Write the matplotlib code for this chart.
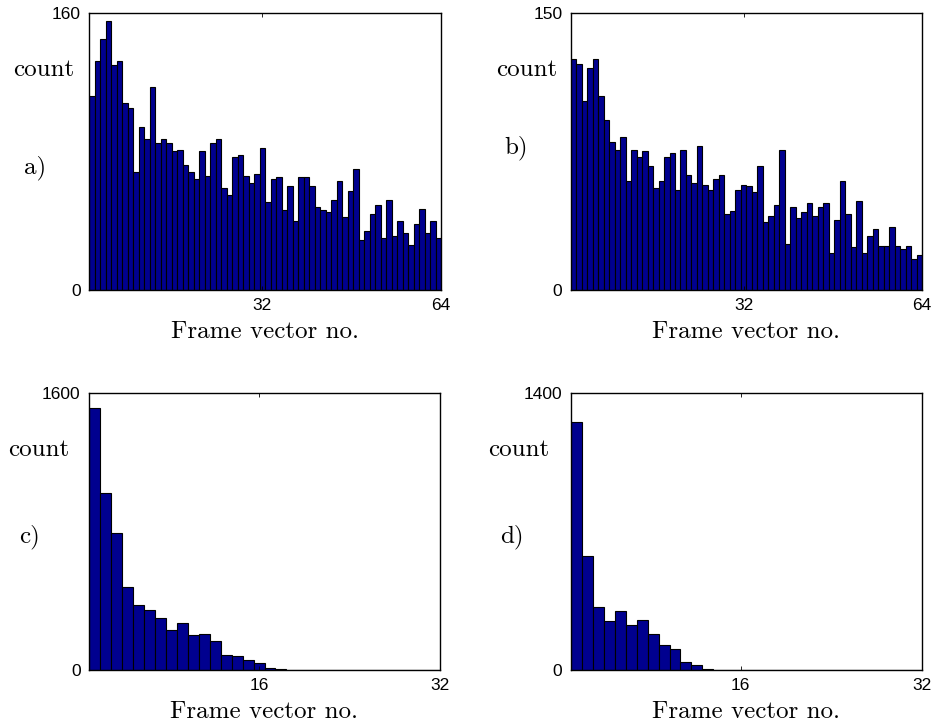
import matplotlib
matplotlib.use("Agg")
import matplotlib.pyplot as plt
import numpy as np

# ---- data ----
counts_a = [112, 132, 145, 155, 130, 132, 108, 105, 68, 94, 87, 117, 85, 87, 85, 80,
            81, 72, 68, 64, 80, 66, 85, 87, 59, 55, 77, 78, 66, 62, 67, 82,
            51, 64, 65, 46, 60, 40, 65, 65, 60, 48, 46, 45, 52, 63, 42, 57,
            70, 29, 34, 44, 49, 30, 52, 31, 40, 33, 26, 38, 47, 33, 40, 30]
counts_b = [125, 122, 102, 120, 125, 105, 92, 80, 76, 83, 59, 76, 72, 75, 67, 55,
            59, 72, 74, 54, 76, 62, 58, 78, 57, 54, 60, 62, 41, 43, 54, 57,
            56, 53, 67, 37, 40, 46, 76, 25, 45, 39, 42, 47, 40, 45, 47, 20,
            38, 59, 41, 23, 48, 20, 29, 33, 24, 24, 34, 24, 22, 24, 17, 19]
counts_c = [1510, 1019, 792, 477, 373, 346, 300, 231, 271, 200, 210, 169, 88, 79, 58, 42,
            10, 6, 0, 0, 0, 0, 0, 0, 0, 0, 0, 0, 0, 0, 0, 0]
counts_d = [1251, 576, 320, 249, 296, 229, 253, 182, 128, 106, 42, 24, 3, 0, 0, 0,
            0, 0, 0, 0, 0, 0, 0, 0, 0, 0, 0, 0, 0, 0, 0, 0]

panels = [
    ("a)", counts_a, 160, 64),
    ("b)", counts_b, 150, 64),
    ("c)", counts_c, 1600, 32),
    ("d)", counts_d, 1400, 32),
]

W, H = 933, 725
fig = plt.figure(figsize=(W / 100, H / 100), dpi=100)

# axes boxes in pixels: left, top, right, bottom
boxes = [(89, 12.7, 441, 290), (570.7, 12.7, 922, 290),
         (89, 392.7, 440, 670), (570.7, 392.7, 922, 670)]
count_pos = [(44, 70), (527, 70), (39, 450), (519, 450)]
letter_pos = [(35, 168), (516, 148), (30, 537), (512, 537)]
xlabel_y = [332, 332, 712, 712]

serif = "cmr10"
barcolor = "#00008f"

for (letter, counts, ymax, n), (l, t, r, b), cp, lp, xy in zip(panels, boxes, count_pos, letter_pos, xlabel_y):
    ax = fig.add_axes([l / W, 1 - b / H, (r - l) / W, (b - t) / H])
    counts = np.asarray(counts, dtype=float)
    width = (n - 1) / n
    lefts = 1 + np.arange(n) * width
    ax.bar(lefts, counts, width=width, align="edge", color=barcolor,
           edgecolor="black", linewidth=0.8)
    ax.set_xlim(1, n)
    ax.set_ylim(0, ymax)
    ax.set_xticks([n // 2, n])
    ax.set_xticklabels([str(n // 2), str(n)])
    ax.set_yticks([0, ymax])
    ax.set_yticklabels(["0", str(ymax)])
    ax.tick_params(direction="in", length=3, width=0.6, top=True, right=True,
                   labelsize=12.5, pad=6)
    for lab in ax.get_xticklabels() + ax.get_yticklabels():
        lab.set_fontfamily("Liberation Sans")
    for sp in ax.spines.values():
        sp.set_linewidth(1.0)
    fig.text((l + r) / 2 / W, 1 - xy / H, "Frame vector no.", fontfamily=serif,
             fontsize=18, ha="center", va="center")
    fig.text(cp[0] / W, 1 - cp[1] / H, "count", fontfamily=serif, fontsize=18,
             ha="center", va="center")
    fig.text(lp[0] / W, 1 - lp[1] / H, letter, fontfamily=serif, fontsize=18,
             ha="center", va="center")

fig.savefig("out.png", dpi=100)
